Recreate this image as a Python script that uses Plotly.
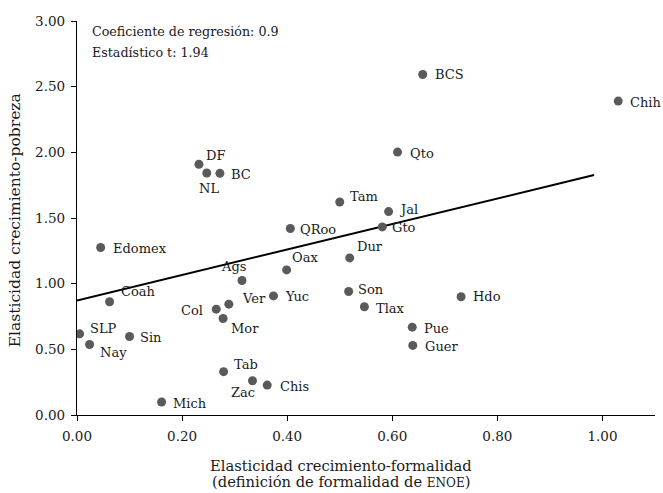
import plotly.graph_objects as go

# ---------------- data ----------------
states = ["Ags", "BC", "BCS", "Chih", "Chis", "Coah", "Col", "DF", "Dur", "Edomex",
          "Gto", "Guer", "Hdo", "Jal", "Mich", "Mor", "Nay", "NL", "Oax", "Pue",
          "QRoo", "Qto", "SLP", "Sin", "Son", "Tab", "Tam", "Tlax", "Ver", "Yuc", "Zac"]
formalidad = [0.314, 0.272, 0.658, 1.030, 0.362, 0.062, 0.265, 0.232, 0.519, 0.045,
              0.581, 0.639, 0.731, 0.593, 0.161, 0.278, 0.024, 0.247, 0.399, 0.638,
              0.406, 0.610, 0.005, 0.100, 0.517, 0.279, 0.500, 0.547, 0.289, 0.374, 0.334]
pobreza = [1.024, 1.840, 2.593, 2.390, 0.228, 0.862, 0.806, 1.909, 1.196, 1.275,
           1.432, 0.530, 0.900, 1.549, 0.099, 0.735, 0.537, 1.843, 1.105, 0.669,
           1.420, 2.002, 0.618, 0.598, 0.940, 0.330, 1.622, 0.824, 0.844, 0.907, 0.261]

fit_x = [0.0, 0.984]
fit_y = [0.872, 1.827]

x_ticks = [0.0, 0.2, 0.4, 0.6, 0.8, 1.0]
y_ticks = [0.0, 0.5, 1.0, 1.5, 2.0, 2.5, 3.0]

stat_lines = ["Coeficiente de regresión: 0.9", "Estadístico t: 1.94"]
x_title_lines = ["Elasticidad crecimiento-formalidad",
                 "(definición de formalidad de <span style='font-size:12px'>ENOE</span>)"]
y_title = "Elasticidad crecimiento-pobreza"

# ---------------- label layout (anchor, dx px, dy px down) ----------------
label_layout = {
    "Ags": ("center", -8, -14), "BC": ("left", 9, 1), "BCS": ("left", 10, 0),
    "Chih": ("left", 10, 1), "Chis": ("left", 11, 1), "Coah": ("left", 9, -10),
    "Col": ("right", -11, 1), "DF": ("left", 5, -9), "Dur": ("left", 5, -11),
    "Edomex": ("left", 10, 1), "Gto": ("left", 8, 1), "Guer": ("left", 10, 1),
    "Hdo": ("left", 10, 0), "Jal": ("left", 8, -2), "Mich": ("left", 9, 1),
    "Mor": ("left", 6, 10), "Nay": ("left", 8, 8), "NL": ("center", 2, 16),
    "Oax": ("left", 3, -12), "Pue": ("left", 10, 1), "QRoo": ("left", 8, 1),
    "Qto": ("left", 10, 1), "SLP": ("left", 8, -5), "Sin": ("left", 8, 1),
    "Son": ("left", 7, -2), "Tab": ("left", 8, -7), "Tam": ("left", 8, -5),
    "Tlax": ("left", 10, 2), "Ver": ("left", 11, -6), "Yuc": ("left", 9, 1),
    "Zac": ("center", -10, 12),
}

FONT = "DejaVu Serif"
TXT = "#1a1a1a"

fig = go.Figure()
fig.add_trace(go.Scatter(x=fit_x, y=fit_y, mode="lines",
                         line=dict(color="black", width=2), hoverinfo="skip",
                         showlegend=False))
fig.add_trace(go.Scatter(x=formalidad, y=pobreza, mode="markers",
                         marker=dict(size=9, color="#5a5a5a"),
                         text=states, showlegend=False))

annotations = []
for name, xv, yv in zip(states, formalidad, pobreza):
    anchor, dx, dy = label_layout[name]
    annotations.append(dict(x=xv, y=yv, xref="x", yref="y", text=name,
                            showarrow=False, xanchor=anchor, yanchor="middle",
                            xshift=dx, yshift=-dy,
                            font=dict(family=FONT, size=13, color=TXT)))

for i, line in enumerate(stat_lines):
    annotations.append(dict(x=90, y=493 - (31 + 21 * i), xref="paper", yref="paper",
                            text=line, showarrow=False, xanchor="left", yanchor="middle",
                            font=dict(family=FONT, size=12.7, color=TXT)))

for i, line in enumerate(x_title_lines):
    annotations.append(dict(x=341, y=493 - (466 + 15.5 * i), xref="paper", yref="paper",
                            text=line, showarrow=False, xanchor="center", yanchor="middle",
                            font=dict(family=FONT, size=14.7, color=TXT)))

annotations.append(dict(x=15, y=493 - 220, xref="paper", yref="paper", text=y_title,
                        showarrow=False, textangle=-90, xanchor="center", yanchor="middle",
                        font=dict(family=FONT, size=15.5, color=TXT)))

# convert paper-pixel coords for text annotations to paper fractions
L, R, T, B = 77, 8, 20.5, 78
W, H = 663, 493
pw, ph = W - L - R, H - T - B
for a in annotations:
    if a["xref"] == "paper":
        a["x"] = (a["x"] - L) / pw
        a["y"] = (a["y"] - B) / ph

fig.update_layout(
    width=W, height=H,
    margin=dict(l=L, r=R, t=T, b=B, pad=0),
    paper_bgcolor="white", plot_bgcolor="white",
    annotations=annotations,
    xaxis=dict(range=[0, 1.1], tickvals=x_ticks, tickformat=".2f",
               showgrid=False, zeroline=False, showline=True, linecolor="black",
               linewidth=1.3, ticks="outside", ticklen=5, tickcolor="black",
               tickwidth=1.3, ticklabelstandoff=4,
               tickfont=dict(family=FONT, size=13.5, color=TXT)),
    yaxis=dict(range=[0, 3], tickvals=y_ticks, tickformat=".2f",
               showgrid=False, zeroline=False, showline=True, linecolor="black",
               linewidth=1.3, ticks="outside", ticklen=5, tickcolor="black",
               tickwidth=1.3, ticklabelstandoff=3,
               tickfont=dict(family=FONT, size=13.5, color=TXT)),
)

fig.write_html("out.html", config={"displayModeBar": False},
               post_script="document.body.style.margin='0';document.body.style.overflow='hidden';")
